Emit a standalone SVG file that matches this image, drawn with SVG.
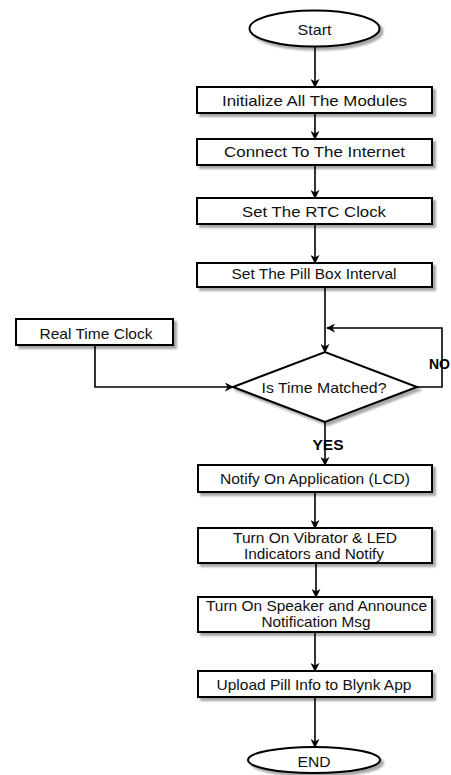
<svg xmlns="http://www.w3.org/2000/svg" width="451" height="775" viewBox="0 0 451 775">
<defs>
<filter id="sh" x="-10%" y="-30%" width="130%" height="180%">
<feGaussianBlur in="SourceAlpha" stdDeviation="1.2"/>
<feOffset dx="3" dy="3" result="b"/>
<feComponentTransfer><feFuncA type="linear" slope="0.35"/></feComponentTransfer>
<feMerge><feMergeNode/><feMergeNode in="SourceGraphic"/></feMerge>
</filter>
<marker id="ah" viewBox="0 0 10 10" refX="9" refY="5" markerWidth="9" markerHeight="9" markerUnits="userSpaceOnUse" orient="auto">
<path d="M0,0 L10,5 L0,10 L3,5 z" fill="#000"/>
</marker>
</defs>
<style>
.n{fill:#fff;stroke:#000;stroke-width:2;filter:url(#sh)}
.t{font-family:"Liberation Sans",Arial,sans-serif;font-size:15px;fill:#111;text-anchor:middle}
.b{font-family:"Liberation Sans",Arial,sans-serif;font-size:14px;font-weight:bold;fill:#000}
.c{fill:none;stroke:#000;stroke-width:1.6}
</style>
<rect width="451" height="775" fill="#fff"/>
<g id="connectors">
<path class="c" d="M315,47 V87" marker-end="url(#ah)"/>
<path class="c" d="M315,113 V139" marker-end="url(#ah)"/>
<path class="c" d="M315,165 V198" marker-end="url(#ah)"/>
<path class="c" d="M315,224 V263" marker-end="url(#ah)"/>
<path class="c" d="M325,287 V352" marker-end="url(#ah)"/>
<path class="c" d="M417,387 H442 V328 H327" marker-end="url(#ah)"/>
<path class="c" d="M95,345 V387 H233" marker-end="url(#ah)"/>
<path class="c" d="M325,422 V465" marker-end="url(#ah)"/>
<path class="c" d="M315,492 V528" marker-end="url(#ah)"/>
<path class="c" d="M316,563 V597" marker-end="url(#ah)"/>
<path class="c" d="M315,632 V671" marker-end="url(#ah)"/>
<path class="c" d="M315,697 V747" marker-end="url(#ah)"/>
<text class="b" x="429" y="369">NO</text>
<text class="b" x="328" y="450" text-anchor="middle" textLength="31" lengthAdjust="spacingAndGlyphs">YES</text>
</g>
<g id="start">
<ellipse class="n" cx="314.5" cy="28.5" rx="65" ry="18"/>
<text class="t" x="314.5" y="35" textLength="34" lengthAdjust="spacingAndGlyphs">Start</text>
</g>
<g id="init">
<rect class="n" x="197" y="87" width="235" height="26"/>
<text class="t" x="314.5" y="105.5" textLength="185" lengthAdjust="spacingAndGlyphs">Initialize All The Modules</text>
</g>
<g id="connect">
<rect class="n" x="197" y="139" width="235" height="26"/>
<text class="t" x="314.5" y="156.5" textLength="181" lengthAdjust="spacingAndGlyphs">Connect To The Internet</text>
</g>
<g id="rtc">
<rect class="n" x="197" y="198" width="235" height="26"/>
<text class="t" x="314" y="217" textLength="144" lengthAdjust="spacingAndGlyphs">Set The RTC Clock</text>
</g>
<g id="interval">
<rect class="n" x="197" y="263" width="235" height="24"/>
<text class="t" x="314" y="279" textLength="165" lengthAdjust="spacingAndGlyphs">Set The Pill Box Interval</text>
</g>
<g id="realtime">
<rect class="n" x="16" y="319" width="157" height="26"/>
<text class="t" x="96" y="339" textLength="113" lengthAdjust="spacingAndGlyphs">Real Time Clock</text>
</g>
<g id="decision">
<polygon class="n" points="233,387 325,352 417,387 325,422"/>
<text class="t" x="324" y="392.5" textLength="125" lengthAdjust="spacingAndGlyphs">Is Time Matched?</text>
</g>
<g id="notify">
<rect class="n" x="198" y="465" width="234" height="27"/>
<text class="t" x="315" y="484" textLength="190" lengthAdjust="spacingAndGlyphs">Notify On Application (LCD)</text>
</g>
<g id="vibrator">
<rect class="n" x="198" y="528" width="234" height="35"/>
<text class="t" x="315" y="543.3" textLength="164" lengthAdjust="spacingAndGlyphs">Turn On Vibrator &amp; LED</text>
<text class="t" x="314" y="559.3" textLength="140" lengthAdjust="spacingAndGlyphs">Indicators and Notify</text>
</g>
<g id="speaker">
<rect class="n" x="198" y="597" width="234" height="35"/>
<text class="t" x="316.5" y="611" textLength="221" lengthAdjust="spacingAndGlyphs">Turn On Speaker and Announce</text>
<text class="t" x="316" y="627" textLength="109" lengthAdjust="spacingAndGlyphs">Notification Msg</text>
</g>
<g id="upload">
<rect class="n" x="198" y="671" width="234" height="26"/>
<text class="t" x="314" y="690" textLength="195" lengthAdjust="spacingAndGlyphs">Upload Pill Info to Blynk App</text>
</g>
<g id="end">
<ellipse class="n" cx="314" cy="760" rx="66" ry="13"/>
<text class="t" x="314" y="766.5" textLength="33" lengthAdjust="spacingAndGlyphs">END</text>
</g>
</svg>
